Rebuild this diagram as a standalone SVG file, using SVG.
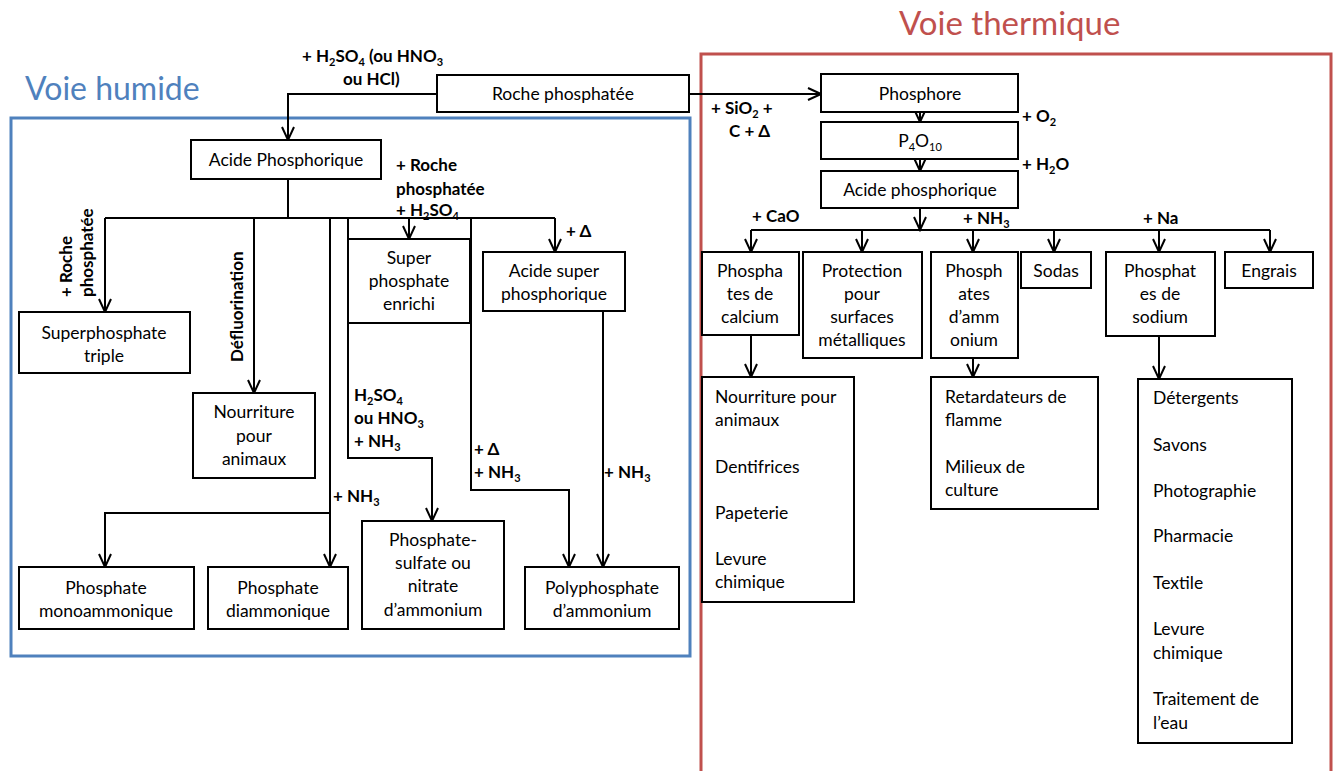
<svg xmlns="http://www.w3.org/2000/svg" width="1336" height="771" viewBox="0 0 1336 771">
<style>
.bx{fill:#fff;stroke:#000;stroke-width:2}
.t{font-family:Lato,"Liberation Sans",sans-serif;font-size:17.5px;fill:#000}
.c{text-anchor:middle}
.b{font-family:Lato,"Liberation Sans",sans-serif;font-size:17px;font-weight:bold;fill:#000}
.s{font-size:11px;baseline-shift:-4px}
.ln{fill:none;stroke:#000;stroke-width:2}
.ar{marker-end:url(#a)}
</style>
<defs>
<marker id="a" markerWidth="16" markerHeight="16" refX="14" refY="7" orient="auto" markerUnits="userSpaceOnUse" viewBox="0 0 16 14">
<path d="M1,1 L14,7 L1,13" fill="none" stroke="#000" stroke-width="2"/>
</marker>
</defs>
<rect width="1336" height="771" fill="#fff"/>
<g id="frames">
<rect x="11" y="118" width="679" height="538" fill="none" stroke="#4f81bd" stroke-width="3"/>
<rect x="701" y="54" width="630" height="740" fill="none" stroke="#c0504d" stroke-width="3"/>
<text x="25" y="100" font-family="Lato,'Liberation Sans',sans-serif" font-size="32" fill="#4f81bd">Voie humide</text>
<text x="899" y="35" font-family="Lato,'Liberation Sans',sans-serif" font-size="33" fill="#c0504d">Voie thermique</text>
</g>
<g id="connectors">
<path class="ln ar" d="M437,94 H288 V140"/>
<path class="ln ar" d="M689,94 H821"/>
<path class="ln" d="M288,179 V218 M105,218 H555"/>
<path class="ln ar" d="M105,218 V312"/>
<path class="ln ar" d="M254,218 V393"/>
<path class="ln ar" d="M330,218 V567"/>
<path class="ln ar" d="M330,513 H105 V567"/>
<path class="ln ar" d="M348,218 V458 H432 V521"/>
<path class="ln ar" d="M409,218 V239"/>
<path class="ln ar" d="M471,218 V490 H569 V567"/>
<path class="ln ar" d="M555,218 V252"/>
<path class="ln ar" d="M603,311 V567"/>
<path class="ln ar" d="M920,112 V122"/>
<path class="ln ar" d="M920,159 V171"/>
<path class="ln ar" d="M920,208 V230"/>
<path class="ln" d="M751,230 H1270"/>
<path class="ln ar" d="M751,230 V252"/>
<path class="ln ar" d="M862,230 V252"/>
<path class="ln ar" d="M973,230 V252"/>
<path class="ln ar" d="M1054,230 V252"/>
<path class="ln ar" d="M1159,230 V252"/>
<path class="ln ar" d="M1270,230 V252"/>
<path class="ln ar" d="M751,335 V377"/>
<path class="ln ar" d="M973,358 V377"/>
<path class="ln ar" d="M1159,336 V379"/>
</g>
<g id="labels">
<text class="b" x="302" y="62">+ H<tspan class="s">2</tspan>SO<tspan class="s">4</tspan> (ou HNO<tspan class="s">3</tspan></text>
<text class="b" x="343" y="85">ou HCl)</text>
<text class="b" x="396" y="171">+ Roche</text>
<text class="b" x="396" y="195">phosphatée</text>
<text class="b" x="396" y="216">+ H<tspan class="s">2</tspan>SO<tspan class="s">4</tspan></text>
<text class="b" transform="translate(72,297) rotate(-90)">+ Roche</text>
<text class="b" transform="translate(93,297) rotate(-90)">phosphatée</text>
<text class="b" transform="translate(243,362) rotate(-90)">Défluorination</text>
<text class="b" x="354" y="401">H<tspan class="s">2</tspan>SO<tspan class="s">4</tspan></text>
<text class="b" x="354" y="424">ou HNO<tspan class="s">3</tspan></text>
<text class="b" x="354" y="447">+ NH<tspan class="s">3</tspan></text>
<text class="b" x="474" y="455">+ Δ</text>
<text class="b" x="474" y="478">+ NH<tspan class="s">3</tspan></text>
<text class="b" x="604" y="478">+ NH<tspan class="s">3</tspan></text>
<text class="b" x="566" y="237">+ Δ</text>
<text class="b" x="333" y="502">+ NH<tspan class="s">3</tspan></text>
<text class="b" x="711" y="114">+ SiO<tspan class="s">2</tspan> +</text>
<text class="b" x="729" y="137">C + Δ</text>
<text class="b" x="1022" y="122">+ O<tspan class="s">2</tspan></text>
<text class="b" x="1022" y="170">+ H<tspan class="s">2</tspan>O</text>
<text class="b" x="752" y="222">+ CaO</text>
<text class="b" x="963" y="224">+ NH<tspan class="s">3</tspan></text>
<text class="b" x="1143" y="224">+ Na</text>
</g>
<g id="n-roche"><rect class="bx" x="437" y="75" width="252" height="37"/><text class="t c" x="563" y="100">Roche phosphatée</text></g>
<g id="n-acide-h"><rect class="bx" x="191" y="140" width="190" height="39"/><text class="t c" x="286" y="166">Acide Phosphorique</text></g>
<g id="n-sptriple"><rect class="bx" x="19" y="312" width="171" height="61"/><text class="t c" x="104" y="339">Superphosphate</text><text class="t c" x="104" y="362">triple</text></g>
<g id="n-nourr-h"><rect class="bx" x="193" y="393" width="122" height="85"/><text class="t c" x="254" y="418">Nourriture</text><text class="t c" x="254" y="442">pour</text><text class="t c" x="254" y="465">animaux</text></g>
<g id="n-spenrichi"><rect class="bx" x="348" y="239" width="122" height="84"/><text class="t c" x="409" y="264">Super</text><text class="t c" x="409" y="287">phosphate</text><text class="t c" x="409" y="310">enrichi</text></g>
<g id="n-asp"><rect class="bx" x="483" y="252" width="142" height="59"/><text class="t c" x="554" y="277">Acide super</text><text class="t c" x="554" y="300">phosphorique</text></g>
<g id="n-mono"><rect class="bx" x="19" y="567" width="175" height="62"/><text class="t c" x="106" y="594">Phosphate</text><text class="t c" x="106" y="617">monoammonique</text></g>
<g id="n-di"><rect class="bx" x="208" y="567" width="140" height="62"/><text class="t c" x="278" y="594">Phosphate</text><text class="t c" x="278" y="617">diammonique</text></g>
<g id="n-psn"><rect class="bx" x="362" y="521" width="142" height="108"/><text class="t c" x="433" y="546">Phosphate-</text><text class="t c" x="433" y="569">sulfate ou</text><text class="t c" x="433" y="592">nitrate</text><text class="t c" x="433" y="616">d’ammonium</text></g>
<g id="n-poly"><rect class="bx" x="525" y="567" width="154" height="62"/><text class="t c" x="602" y="594">Polyphosphate</text><text class="t c" x="602" y="617">d’ammonium</text></g>
<g id="n-phosphore"><rect class="bx" x="821" y="74" width="197" height="38"/><text class="t c" x="920" y="100">Phosphore</text></g>
<g id="n-p4o10"><rect class="bx" x="821" y="122" width="197" height="37"/><text class="t c" x="920" y="147">P<tspan class="s">4</tspan>O<tspan class="s">10</tspan></text></g>
<g id="n-acide-t"><rect class="bx" x="821" y="171" width="197" height="37"/><text class="t c" x="920" y="196">Acide phosphorique</text></g>
<g id="n-calcium"><rect class="bx" x="702" y="252" width="97" height="83"/><text class="t c" x="750" y="277">Phospha</text><text class="t c" x="750" y="300">tes de</text><text class="t c" x="750" y="323">calcium</text></g>
<g id="n-protection"><rect class="bx" x="803" y="252" width="119" height="106"/><text class="t c" x="862" y="277">Protection</text><text class="t c" x="862" y="300">pour</text><text class="t c" x="862" y="323">surfaces</text><text class="t c" x="862" y="346">métalliques</text></g>
<g id="n-ammonium"><rect class="bx" x="931" y="252" width="87" height="106"/><text class="t c" x="974" y="277">Phosph</text><text class="t c" x="974" y="300">ates</text><text class="t c" x="974" y="323">d’amm</text><text class="t c" x="974" y="346">onium</text></g>
<g id="n-sodas"><rect class="bx" x="1021" y="252" width="70" height="36"/><text class="t c" x="1056" y="277">Sodas</text></g>
<g id="n-sodium"><rect class="bx" x="1106" y="252" width="109" height="84"/><text class="t c" x="1160" y="277">Phosphat</text><text class="t c" x="1160" y="300">es de</text><text class="t c" x="1160" y="323">sodium</text></g>
<g id="n-engrais"><rect class="bx" x="1225" y="252" width="88" height="36"/><text class="t c" x="1269" y="277">Engrais</text></g>
<g id="n-list-calcium"><rect class="bx" x="702" y="377" width="152" height="225"/>
<text class="t" x="715" y="403">Nourriture pour</text><text class="t" x="715" y="426">animaux</text><text class="t" x="715" y="473">Dentifrices</text><text class="t" x="715" y="519">Papeterie</text><text class="t" x="715" y="565">Levure</text><text class="t" x="715" y="588">chimique</text></g>
<g id="n-list-ammonium"><rect class="bx" x="931" y="377" width="167" height="132"/>
<text class="t" x="945" y="403">Retardateurs de</text><text class="t" x="945" y="426">flamme</text><text class="t" x="945" y="473">Milieux de</text><text class="t" x="945" y="496">culture</text></g>
<g id="n-list-sodium"><rect class="bx" x="1138" y="379" width="154" height="364"/>
<text class="t" x="1153" y="404">Détergents</text><text class="t" x="1153" y="451">Savons</text><text class="t" x="1153" y="497">Photographie</text><text class="t" x="1153" y="542">Pharmacie</text><text class="t" x="1153" y="589">Textile</text><text class="t" x="1153" y="635">Levure</text><text class="t" x="1153" y="659">chimique</text><text class="t" x="1153" y="705">Traitement de</text><text class="t" x="1153" y="729">l’eau</text></g>
</svg>
